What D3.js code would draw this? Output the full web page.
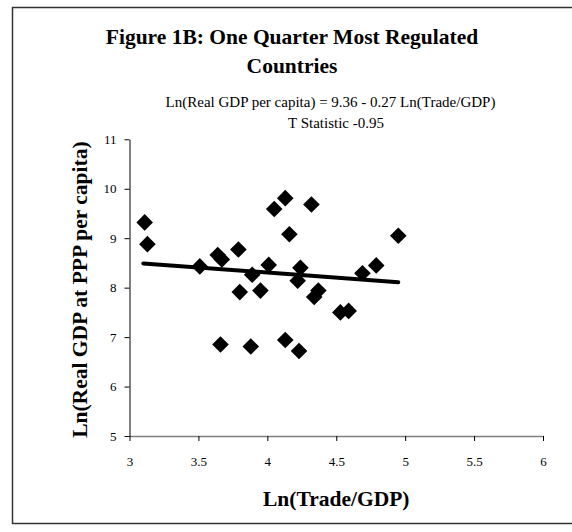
<!DOCTYPE html>
<html>
<head>
<meta charset="utf-8">
<script src="https://cdn.jsdelivr.net/npm/d3@7/dist/d3.min.js"></script>
<style>
  html, body { margin: 0; padding: 0; background: #fff; }
  svg { display: block; }
  text { font-family: "Liberation Serif", "Times New Roman", Times, serif; fill: #000; }
</style>
</head>
<body>
<svg id="chart" width="572" height="532"></svg>
<script>
// ---- data ----
const tradeGdp = [3.11, 3.13, 3.51, 3.64, 3.67, 3.79, 3.80, 3.66, 3.89, 3.88, 3.95, 4.01, 4.05, 4.13, 4.16, 4.13, 4.22, 4.24, 4.23, 4.32, 4.34, 4.37, 4.53, 4.59, 4.69, 4.79, 4.95];
const lnGdp    = [9.32, 8.88, 8.43, 8.66, 8.57, 8.77, 7.91, 6.85, 8.26, 6.81, 7.94, 8.46, 9.59, 9.81, 9.08, 6.94, 8.14, 8.40, 6.72, 9.68, 7.81, 7.94, 7.50, 7.53, 8.29, 8.45, 9.05];
const fitX = [3.10, 4.95];
const fitY = [8.49, 8.11];
const xTicks = [3, 3.5, 4, 4.5, 5, 5.5, 6];
const yTicks = [5, 6, 7, 8, 9, 10, 11];
const titleLines = ["Figure 1B: One Quarter Most Regulated", "Countries"];
const subtitleLines = ["Ln(Real GDP per capita) = 9.36 - 0.27 Ln(Trade/GDP)", "T Statistic -0.95"];
const xTitle = "Ln(Trade/GDP)";
const yTitle = "Ln(Real GDP at PPP per capita)";

// ---- drawing ----
const svg = d3.select("#chart");
const serif = "'Liberation Serif', 'Times New Roman', Times, serif";

svg.append("rect")
  .attr("x", 12.5).attr("y", 7.5)
  .attr("width", 620).attr("height", 516)
  .attr("fill", "#fff").attr("stroke", "#333").attr("stroke-width", 1.5);

const x = d3.scaleLinear().domain([3, 6]).range([129.5, 543]);
const y = d3.scaleLinear().domain([5, 11]).range([436, 139.3]);

// title
svg.append("g").selectAll("text").data(titleLines).join("text")
  .attr("x", 292)
  .attr("y", (d, i) => 44.3 + i * 29)
  .attr("text-anchor", "middle")
  .style("font-size", "21.5px").style("font-weight", "bold")
  .text(d => d);

svg.append("g").selectAll("text").data(subtitleLines).join("text")
  .attr("x", (d, i) => i === 0 ? 330.5 : 336)
  .attr("y", (d, i) => 106.7 + i * 21.6)
  .attr("text-anchor", "middle")
  .style("font-size", "15px")
  .text(d => d);

// x axis
const xAxis = svg.append("g")
  .attr("transform", `translate(0,436)`)
  .attr("font-family", serif)
  .call(d3.axisBottom(x).tickValues(xTicks).tickSize(5).tickSizeOuter(0).tickPadding(16).tickFormat(d3.format("")));
xAxis.select(".domain").attr("stroke", "#808080").attr("stroke-width", 1.5);
xAxis.selectAll(".tick line").attr("stroke", "#000");
xAxis.selectAll("text").style("font-size", "13px").style("font-family", serif);

// y axis
const yAxis = svg.append("g")
  .attr("transform", `translate(129.5,0)`)
  .attr("font-family", serif)
  .call(d3.axisLeft(y).tickValues(yTicks).tickSize(5).tickSizeOuter(0).tickPadding(8).tickFormat(d3.format("")));
yAxis.select(".domain").attr("stroke", "#000");
yAxis.selectAll(".tick line").attr("stroke", "#000");
yAxis.selectAll("text").style("font-size", "13px").style("font-family", serif);

// axis titles
svg.append("text")
  .attr("x", (x.range()[0] + x.range()[1]) / 2).attr("y", 506)
  .attr("text-anchor", "middle")
  .style("font-size", "21.5px").style("font-weight", "bold")
  .text(xTitle);

svg.append("text")
  .attr("transform", `translate(87,${(y.range()[0] + y.range()[1]) / 2 + 2}) rotate(-90)`)
  .attr("text-anchor", "middle")
  .style("font-size", "21.5px").style("font-weight", "bold")
  .text(yTitle);

// points
const pts = tradeGdp.map((v, i) => ({ x: v, y: lnGdp[i] }));
svg.append("g").selectAll("path").data(pts).join("path")
  .attr("transform", d => `translate(${x(d.x)},${y(d.y)})`)
  .attr("d", "M0,-8.3L8.3,0L0,8.3L-8.3,0Z")
  .attr("fill", "#000");

// fitted line
const line = d3.line().x(d => x(d[0])).y(d => y(d[1]));
svg.append("path")
  .datum(fitX.map((v, i) => [v, fitY[i]]))
  .attr("d", line)
  .attr("fill", "none").attr("stroke", "#000")
  .attr("stroke-width", 4).attr("stroke-linecap", "round");
</script>
</body>
</html>
